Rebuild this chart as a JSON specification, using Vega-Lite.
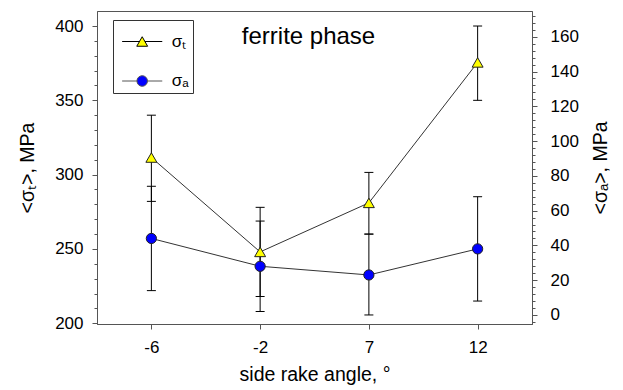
{
  "$schema": "https://vega.github.io/schema/vega-lite/v6.json",
  "width": 435,
  "height": 313,
  "autosize": {"type": "none"},
  "padding": {"left": 97, "top": 11, "right": 91, "bottom": 66},
  "background": "white",
  "config": {
    "view": {"stroke": "#555", "strokeWidth": 1},
    "axis": {
      "grid": false,
      "labelFont": "Liberation Sans",
      "titleFont": "Liberation Sans",
      "labelColor": "#000",
      "titleColor": "#000",
      "titleFontWeight": "normal",
      "domainColor": "#555",
      "tickColor": "#555",
      "labelFontSize": 17,
      "titleFontSize": 19.5
    },
    "legend": {"labelFont": "Liberation Sans", "labelColor": "#000"}
  },
  "title": {
    "text": "ferrite phase",
    "font": "Liberation Sans",
    "fontSize": 24,
    "fontWeight": "normal",
    "color": "#000",
    "anchor": "middle",
    "frame": "group",
    "baseline": "alphabetic",
    "offset": -57,
    "dx": -6
  },
  "data": {
    "values": [
      {"angle": -6, "series": "T", "value": 311.5, "lo": 282, "hi": 340},
      {"angle": -2, "series": "T", "value": 248, "lo": 218, "hi": 278},
      {"angle": 7, "series": "T", "value": 281, "lo": 260, "hi": 301.5},
      {"angle": 12, "series": "T", "value": 375.5, "lo": 350, "hi": 400},
      {"angle": -6, "series": "A", "value": 44, "lo": 14, "hi": 74},
      {"angle": -2, "series": "A", "value": 28, "lo": 2, "hi": 54},
      {"angle": 7, "series": "A", "value": 23, "lo": 0, "hi": 46.5},
      {"angle": 12, "series": "A", "value": 38, "lo": 8, "hi": 68}
    ]
  },
  "encoding": {
    "x": {
      "field": "angle",
      "type": "ordinal",
      "scale": {"type": "point", "padding": 0.5},
      "axis": {
        "title": "side rake angle, °",
        "labelAngle": 0,
        "tickSize": 5,
        "labelPadding": 10,
        "titlePadding": 10
      }
    }
  },
  "resolve": {"scale": {"y": "independent"}},
  "layer": [
    {
      "transform": [{"filter": "datum.series == 'T'"}],
      "mark": {"type": "line", "color": "#333", "strokeWidth": 1},
      "encoding": {
        "y": {
          "field": "value",
          "type": "quantitative",
          "scale": {"domain": [199.5, 410.1], "nice": false, "zero": false},
          "axis": {
            "orient": "left",
            "values": [200, 250, 300, 350, 400],
            "tickSize": 5,
            "labelPadding": 9,
            "title": "<σₜ>, MPa",
            "titlePadding": 17
          }
        }
      }
    },
    {
      "transform": [{"filter": "datum.series == 'A'"}],
      "mark": {"type": "line", "color": "#333", "strokeWidth": 1},
      "encoding": {
        "y": {
          "field": "value",
          "type": "quantitative",
          "scale": {"domain": [-5.2, 174.8], "nice": false, "zero": false},
          "axis": {
            "orient": "right",
            "values": [0, 20, 40, 60, 80, 100, 120, 140, 160],
            "tickSize": 5,
            "labelPadding": 13,
            "title": "<σₐ>, MPa",
            "titleAngle": -90,
            "titleBaseline": "top",
            "titlePadding": 13
          }
        }
      }
    },
    {
      "transform": [{"filter": "datum.series == 'T'"}],
      "mark": {"type": "rule", "color": "#000", "strokeWidth": 1},
      "encoding": {
        "y": {
          "field": "lo",
          "type": "quantitative",
          "scale": {"domain": [199.5, 410.1], "nice": false, "zero": false},
          "axis": {
            "orient": "left",
            "values": [210, 220, 230, 240, 260, 270, 280, 290, 310, 320, 330, 340, 360, 370, 380, 390],
            "tickSize": 3,
            "labels": false,
            "domain": false,
            "title": null
          }
        },
        "y2": {"field": "hi"}
      }
    },
    {
      "transform": [{"filter": "datum.series == 'T'"}, {"fold": ["lo", "hi"], "as": ["end", "bound"]}],
      "mark": {"type": "tick", "color": "#000", "size": 9, "thickness": 1, "opacity": 1},
      "encoding": {
        "y": {
          "field": "bound",
          "type": "quantitative",
          "scale": {"domain": [199.5, 410.1], "nice": false, "zero": false},
          "axis": null
        }
      }
    },
    {
      "transform": [{"filter": "datum.series == 'A'"}],
      "mark": {"type": "rule", "color": "#000", "strokeWidth": 1},
      "encoding": {
        "y": {
          "field": "lo",
          "type": "quantitative",
          "scale": {"domain": [-5.2, 174.8], "nice": false, "zero": false},
          "axis": {
            "orient": "right",
            "values": [-4, 4, 8, 12, 16, 24, 28, 32, 36, 44, 48, 52, 56, 64, 68, 72, 76, 84, 88, 92, 96, 104, 108, 112, 116, 124, 128, 132, 136, 144, 148, 152, 156, 164, 168, 172],
            "tickSize": 3,
            "labels": false,
            "domain": false,
            "title": null
          }
        },
        "y2": {"field": "hi"}
      }
    },
    {
      "transform": [{"filter": "datum.series == 'A'"}, {"fold": ["lo", "hi"], "as": ["end", "bound"]}],
      "mark": {"type": "tick", "color": "#000", "size": 9, "thickness": 1, "opacity": 1},
      "encoding": {
        "y": {
          "field": "bound",
          "type": "quantitative",
          "scale": {"domain": [-5.2, 174.8], "nice": false, "zero": false},
          "axis": null
        }
      }
    },
    {
      "transform": [{"filter": "datum.series == 'T'"}],
      "mark": {"type": "point", "shape": "triangle-up", "filled": true, "fill": "#ffff00", "size": 120, "stroke": "#222", "strokeWidth": 1, "opacity": 1},
      "encoding": {
        "y": {
          "field": "value",
          "type": "quantitative",
          "scale": {"domain": [199.5, 410.1], "nice": false, "zero": false},
          "axis": null
        }
      }
    },
    {
      "transform": [{"filter": "datum.series == 'A'"}],
      "mark": {"type": "point", "shape": "circle", "filled": true, "fill": "#0000ff", "size": 105, "stroke": "#222", "strokeWidth": 1, "opacity": 1},
      "encoding": {
        "y": {
          "field": "value",
          "type": "quantitative",
          "scale": {"domain": [-5.2, 174.8], "nice": false, "zero": false},
          "axis": null
        }
      }
    },
    {
      "mark": {"type": "point", "filled": true, "size": 0, "strokeWidth": 1, "opacity": 1, "clip": true},
      "encoding": {
        "y": {
          "field": "value",
          "type": "quantitative",
          "scale": {"domain": [199.5, 410.1], "nice": false, "zero": false},
          "axis": null
        },
        "fill": {
          "field": "series",
          "type": "nominal",
          "scale": {"domain": ["T", "A"], "range": ["#ffff00", "#0000ff"]},
          "legend": {
            "title": null,
            "orient": "none",
            "legendX": 16,
            "legendY": 9,
            "padding": 4,
            "strokeColor": "#333",
            "fillColor": "#fff",
            "symbolSize": 1156,
            "symbolStrokeWidth": 1,
            "symbolOpacity": 1,
            "symbolOffset": 7.7,
            "labelFontSize": 17,
            "labelOffset": 12,
            "rowPadding": 9.5,
            "labelExpr": "datum.value == 'T' ? 'σₜ' : 'σₐ'"
          }
        },
        "stroke": {
          "field": "series",
          "type": "nominal",
          "scale": {"domain": ["T", "A"], "range": ["#000000", "#555555"]},
          "legend": {
            "title": null,
            "orient": "none",
            "legendX": 16,
            "legendY": 9,
            "padding": 4,
            "strokeColor": "#333",
            "fillColor": "#fff",
            "symbolSize": 1156,
            "symbolStrokeWidth": 1,
            "symbolOpacity": 1,
            "symbolOffset": 7.7,
            "labelFontSize": 17,
            "labelOffset": 12,
            "rowPadding": 9.5,
            "labelExpr": "datum.value == 'T' ? 'σₜ' : 'σₐ'"
          }
        },
        "shape": {
          "field": "series",
          "type": "nominal",
          "scale": {
            "domain": ["T", "A"],
            "range": [
              "M-1.47,-1.12M-1.18,0H-0.16M0.16,0H1.18M0,-0.28L0.32,0.28H-0.32Z",
              "M-1.47,-1.12M-1.18,0H-0.31M0.31,0H1.18M-0.31,0A0.31,0.31,0,1,0,0.31,0A0.31,0.31,0,1,0,-0.31,0Z"
            ]
          },
          "legend": {
            "title": null,
            "orient": "none",
            "legendX": 16,
            "legendY": 9,
            "padding": 4,
            "strokeColor": "#333",
            "fillColor": "#fff",
            "symbolSize": 1156,
            "symbolStrokeWidth": 1,
            "symbolOpacity": 1,
            "symbolOffset": 7.7,
            "labelFontSize": 17,
            "labelOffset": 12,
            "rowPadding": 9.5,
            "labelExpr": "datum.value == 'T' ? 'σₜ' : 'σₐ'"
          }
        }
      }
    }
  ]
}
